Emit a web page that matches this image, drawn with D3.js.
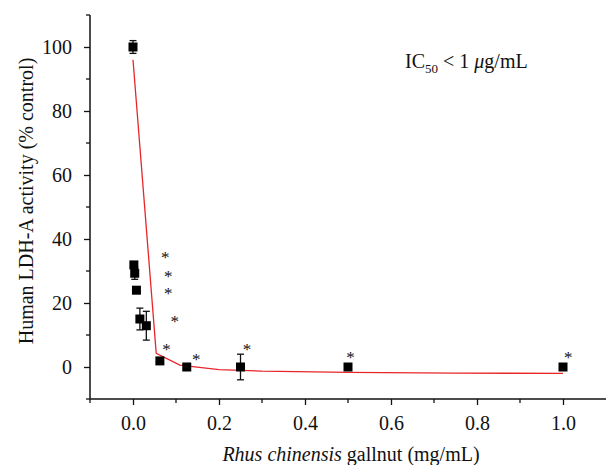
<!DOCTYPE html>
<html>
<head>
<meta charset="utf-8">
<script src="https://cdn.jsdelivr.net/npm/d3@7"></script>
<style>
  html, body { margin: 0; padding: 0; background: #fff; }
  svg { display: block; }
  text { font-family: "Liberation Serif", "Times New Roman", serif; fill: #111; }
</style>
</head>
<body>
<svg id="chart" width="607" height="465"></svg>
<script>
// Gallnut concentration (mg/mL) and LDH-A activity (% of control)
const conc     = [0, 0.002, 0.004, 0.008, 0.016, 0.031, 0.0625, 0.125, 0.25, 0.5, 1.0];
const activity = [100, 31.9, 29.3, 24.0, 15.0, 12.9, 1.9, 0.0, 0.0, 0.0, 0.0];
const errBar   = [2.0, 0.6, 1.9, 0.5, 3.4, 4.5, 0.5, 0.3, 4.0, 0.3, 0.3];

// Fitted dose-response curve
const fitConc  = [0, 0.054, 0.109, 0.2, 0.3, 0.5, 0.75, 1.0];
const fitValue = [96, 4.3, 0.6, -0.8, -1.3, -1.7, -1.9, -2.0];

// Significance markers (position in data units)
const starX = [0.075, 0.082, 0.082, 0.097, 0.078, 0.147, 0.265, 0.506, 1.012];
const starY = [35.0, 29.2, 23.8, 15.0, 6.3, 3.2, 6.3, 3.75, 3.75];

const xMajor = [0, 0.2, 0.4, 0.6, 0.8, 1.0];
const xMinor = [-0.1, 0.1, 0.3, 0.5, 0.7, 0.9];
const yMajor = [0, 20, 40, 60, 80, 100];
const yMinor = [-10, 10, 30, 50, 70, 90, 110];

const FONT = "Liberation Serif";
const FS = 20;

const svg = d3.select("#chart");
const x = d3.scaleLinear().domain([-0.1, 1.1]).range([90, 606]);
const y = d3.scaleLinear().domain([-10, 110]).range([399, 15]);

// Axes
const xAxis = d3.axisBottom(x).tickValues(xMajor).tickFormat(d3.format(".1f")).tickSize(6).tickPadding(11);
const yAxis = d3.axisLeft(y).tickValues(yMajor).tickFormat(d3.format("d")).tickSize(6).tickPadding(12);

const gx = svg.append("g").attr("transform", "translate(0,399)").call(xAxis);
gx.selectAll(".minor").data(xMinor).enter().append("line")
  .attr("class", "minor")
  .attr("x1", d => x(d)).attr("x2", d => x(d))
  .attr("y1", 0).attr("y2", 4)
  .attr("stroke", "#111").attr("stroke-width", 1.3);

const gy = svg.append("g").attr("transform", "translate(90,0)").call(yAxis);
gy.selectAll(".minor").data(yMinor).enter().append("line")
  .attr("class", "minor")
  .attr("y1", d => y(d)).attr("y2", d => y(d))
  .attr("x1", 0).attr("x2", -4)
  .attr("stroke", "#111").attr("stroke-width", 1.3);

[gx, gy].forEach(g => {
  g.attr("font-family", FONT).attr("font-size", FS);
  g.select(".domain").attr("stroke", "#111").attr("stroke-width", 1.5);
  g.selectAll(".tick line").attr("stroke", "#111").attr("stroke-width", 1.3);
  g.selectAll(".tick text").style("font-size", FS + "px").style("font-family", FONT).attr("fill", "#111");
});
// plain axis lines without end caps
gx.select(".domain").attr("d", `M${x.range()[0]},0H${x.range()[1]}`);
gy.select(".domain").attr("d", `M0,${y.range()[0]}V${y.range()[1]}`);

// Fitted curve
const line = d3.line().x((d, i) => x(fitConc[i])).y((d, i) => y(fitValue[i]));
svg.append("path")
  .datum(fitConc)
  .attr("d", line)
  .attr("fill", "none")
  .attr("stroke", "#e8262a")
  .attr("stroke-width", 1.3);

// Error bars
const pts = conc.map((c, i) => ({ c, v: activity[i], e: errBar[i] }));
const eb = svg.append("g").attr("stroke", "#111").attr("stroke-width", 1.3);
pts.forEach(p => {
  const cx = x(p.c);
  eb.append("line").attr("x1", cx).attr("x2", cx).attr("y1", y(p.v + p.e)).attr("y2", y(p.v - p.e));
  eb.append("line").attr("x1", cx - 3.5).attr("x2", cx + 3.5).attr("y1", y(p.v + p.e)).attr("y2", y(p.v + p.e));
  eb.append("line").attr("x1", cx - 3.5).attr("x2", cx + 3.5).attr("y1", y(p.v - p.e)).attr("y2", y(p.v - p.e));
});

// Square markers
const sq = 9;
svg.append("g").selectAll("rect").data(pts).enter().append("rect")
  .attr("x", d => x(d.c) - sq / 2)
  .attr("y", d => y(d.v) - sq / 2)
  .attr("width", sq).attr("height", sq)
  .attr("fill", "#000");

// Asterisks
svg.append("g").selectAll("text").data(starX).enter().append("text")
  .attr("x", d => x(d))
  .attr("y", (d, i) => y(starY[i]) + 8)
  .attr("text-anchor", "middle")
  .style("font-size", "17px")
  .text("*");

// Annotation
const ann = svg.append("text").attr("x", 405).attr("y", 68).style("font-size", FS + "px");
ann.append("tspan").text("IC");
ann.append("tspan").attr("dy", 5).style("font-size", "13px").text("50");
ann.append("tspan").attr("dy", -5).text(" < 1 ");
ann.append("tspan").style("font-style", "italic").text("μ");
ann.append("tspan").text("g/mL");

// Axis titles
const xt = svg.append("text").attr("x", 351).attr("y", 461).attr("text-anchor", "middle").style("font-size", FS + "px");
xt.append("tspan").style("font-style", "italic").text("Rhus chinensis");
xt.append("tspan").text(" gallnut (mg/mL)");

svg.append("text")
  .attr("transform", "translate(33,201) rotate(-90)")
  .attr("text-anchor", "middle")
  .style("font-size", FS + "px")
  .text("Human LDH-A activity (% control)");
</script>
</body>
</html>
